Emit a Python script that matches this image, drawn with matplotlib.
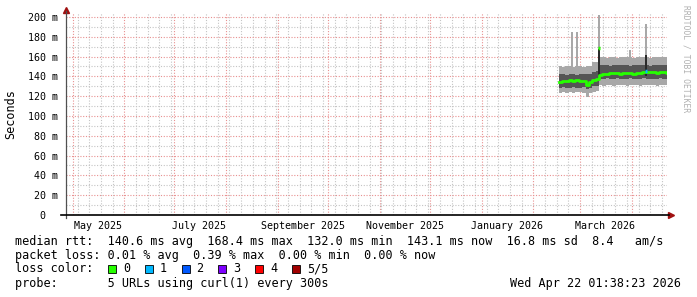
#!/usr/bin/env python3
from datetime import datetime
import numpy as np
import pandas as pd
import matplotlib
matplotlib.use('Agg')
import matplotlib.pyplot as plt
import matplotlib.dates as mdates
from matplotlib.ticker import MultipleLocator, FuncFormatter, NullFormatter
from matplotlib.patches import Rectangle

plt.rcParams['font.family'] = ['DejaVu Sans Mono']

# ---- data (ms) ----
t_start = datetime(2025, 4, 27, 1, 38, 23)
t_now = datetime(2026, 4, 22, 1, 38, 23)
dates = pd.date_range('2026-02-16 06:00', periods=33, freq='2D')

light_top = [150, 149, 150, 150, 149, 150, 150, 149, 150, 150, 155, 155,
             160, 160, 159, 160, 160, 159, 160, 160, 160, 160, 159, 160,
             160, 160, 160, 159, 160, 160, 160, 160, 160]
light_bot = [123, 124, 123, 124, 123, 124, 124, 123, 119, 123, 124, 125,
             131, 130, 131, 131, 130, 131, 131, 131, 130, 131, 131, 131,
             130, 131, 131, 131, 131, 130, 131, 131, 131]
dark_top = [142, 142, 141, 142, 142, 141, 142, 142, 142, 142, 144, 145,
            151, 151, 151, 150, 151, 151, 151, 151, 151, 150, 151, 151,
            151, 151, 151, 150, 151, 151, 151, 151, 151]
dark_bot = [128, 129, 128, 128, 129, 128, 128, 129, 127, 128, 130, 130,
            137, 137, 138, 137, 137, 138, 137, 137, 137, 138, 137, 137,
            137, 138, 137, 137, 137, 137, 138, 137, 137]
median = [134, 135, 135, 136, 135, 136, 135, 135, 131, 134, 136, 137,
          141, 142, 142, 143, 143, 143, 142, 143, 143, 143, 142, 143,
          143, 144, 144, 144, 144, 143, 144, 144, 143]

spike_dates = pd.to_datetime(['2026-02-24 05:00', '2026-02-27 05:00', '2026-03-12 13:00',
                              '2026-03-30 17:00', '2026-04-09 08:00'])
spike_top = [185, 185, 202, 167, 193]
spike_dark = [np.nan, np.nan, 168, np.nan, 162]
spike_median = [np.nan, np.nan, 168.4, np.nan, 145]
spike_loss = [0, 0, 0, 0, 1]

loss_labels = ['0', '1', '2', '3', '4', '5/5']
loss_colors = ['#26ff00', '#00b8ff', '#0059ff', '#7e00ff', '#ff0000', '#a10000']

# extend steps to "now"
x = list(dates) + [pd.Timestamp(t_now)]
def ext(v):
    return list(v) + [v[-1]]

fig = plt.figure(figsize=(6.97, 2.97), dpi=100)
ax = fig.add_axes([66 / 697, 1 - 215 / 297, 601 / 697, 202 / 297])

ax.fill_between(x, ext(light_bot), ext(light_top), step='post', color='#a8a8a8', lw=0, zorder=2)
ax.bar(spike_dates, np.array(spike_top) - 145, bottom=145, width=1.1, color='#a8a8a8', lw=0, zorder=2)
ax.fill_between(x, ext(dark_bot), ext(dark_top), step='post', color='#555555', lw=0, zorder=3)
ax.bar(spike_dates, np.array(spike_dark) - 140, bottom=140, width=1.1, color='#2a2a2a', lw=0, zorder=3)
ax.step(x, ext(median), where='post', color=loss_colors[0], lw=2.0, zorder=4)
for d, m, l in zip(spike_dates, spike_median, spike_loss):
    if not np.isnan(m):
        ax.hlines(m, d - pd.Timedelta(hours=14), d + pd.Timedelta(hours=14),
                  color=loss_colors[l], lw=2.5, zorder=5)

ax.set_xlim(t_start, t_now)
ax.set_ylim(0, 204)

# grid
ax.xaxis.set_major_locator(mdates.MonthLocator())
ax.xaxis.set_major_formatter(NullFormatter())
ax.xaxis.set_minor_locator(mdates.WeekdayLocator(byweekday=mdates.SU))
ax.yaxis.set_major_locator(MultipleLocator(20))
ax.yaxis.set_minor_locator(MultipleLocator(10))
ax.yaxis.set_major_formatter(FuncFormatter(lambda v, p: '0  ' if v == 0 else '%d m' % v))
ax.grid(which='major', color='#e89090', ls=(0, (1, 1.5)), lw=0.8, zorder=1)
ax.grid(which='minor', color='#c4c4c4', ls=(0, (1, 1.5)), lw=0.8, zorder=0)
ax.set_axisbelow(True)
ax.tick_params(which='both', length=0)
ax.tick_params(axis='y', labelsize=7.2, pad=6)
for s in ax.spines.values():
    s.set_visible(False)

sec = ax.secondary_xaxis('bottom')
sec.xaxis.set_major_locator(mdates.MonthLocator(bymonth=[1, 3, 5, 7, 9, 11], bymonthday=16))
sec.xaxis.set_major_formatter(mdates.DateFormatter('%B %Y'))
sec.tick_params(length=0, labelsize=7.2, pad=4)
sec.spines['bottom'].set_visible(False)

# axis lines and arrows
ax.plot([0, 0], [-0.015, 1.01], transform=ax.transAxes, color='#505050', lw=0.9, clip_on=False, zorder=6)
ax.plot([-0.008, 1.004], [0, 0], transform=ax.transAxes, color='#000000', lw=1.2, clip_on=False, zorder=6)
ax.plot([0], [1.016], marker='^', ms=4, color='#a01010', transform=ax.transAxes, clip_on=False)
ax.plot([1.007], [0], marker='>', ms=4, color='#a01010', transform=ax.transAxes, clip_on=False)

fig.text(11 / 697, 1 - 114 / 297, 'Seconds', rotation=90, ha='center', va='center', fontsize=8.5)
fig.text(686 / 697, 1 - 5 / 297, 'RRDTOOL / TOBI OETIKER', rotation=-90, ha='center', va='top',
         fontsize=5.8, color='#b0b0b0')

# legend / stats
fs = 8.5
fig.text(15 / 697, 1 - 241 / 297,
         'median rtt:  140.6 ms avg  168.4 ms max  132.0 ms min  143.1 ms now  16.8 ms sd  8.4   am/s',
         fontsize=fs, va='center')
fig.text(15 / 697, 1 - 255 / 297, 'packet loss: 0.01 % avg  0.39 % max  0.00 % min  0.00 % now',
         fontsize=fs, va='center')
fig.text(15 / 697, 1 - 269 / 297, 'loss color:', fontsize=fs, va='center')
for i, (lab, col) in enumerate(zip(loss_labels, loss_colors)):
    x0 = 108 + 36.8 * i
    fig.patches.append(Rectangle((x0 / 697, 1 - 273 / 297), 8 / 697, 8 / 297, transform=fig.transFigure,
                                 facecolor=col, edgecolor='black', lw=0.6))
    fig.text((x0 + 15) / 697, 1 - 269 / 297, lab, fontsize=fs, va='center')
fig.text(15 / 697, 1 - 283 / 297, 'probe:       5 URLs using curl(1) every 300s', fontsize=fs, va='center')
fig.text(681 / 697, 1 - 283 / 297, 'Wed Apr 22 01:38:23 2026', fontsize=fs, va='center', ha='right')

fig.savefig('out.png', dpi=100)
